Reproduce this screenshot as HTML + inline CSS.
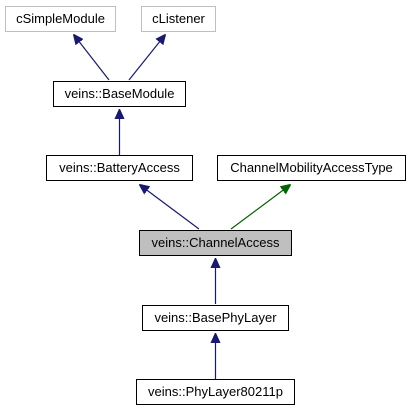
<!DOCTYPE html>
<html><head><style>body{margin:0;background:#fff}</style></head><body>
<svg width="411" height="411" xmlns="http://www.w3.org/2000/svg" font-family="Liberation Sans, sans-serif" font-size="13">
<defs>
<marker id="b" markerWidth="10" markerHeight="10" refX="9" refY="5" orient="auto" markerUnits="userSpaceOnUse"><path d="M0,0.5 L10,5 L0,9.5 z" fill="#191970" stroke="#191970"/></marker>
<marker id="g" markerWidth="10" markerHeight="10" refX="9" refY="5" orient="auto" markerUnits="userSpaceOnUse"><path d="M0,0.5 L10,5 L0,9.5 z" fill="#006400" stroke="#006400"/></marker>
</defs>
<g fill="#fff" stroke-width="1">
<rect x="5.5" y="6.5" width="110" height="25" stroke="#bfbfbf"/>
<rect x="141.5" y="6.5" width="74" height="25" stroke="#bfbfbf"/>
<rect x="53.5" y="81.5" width="132" height="25" stroke="#000"/>
<rect x="46.5" y="155.5" width="146" height="25" stroke="#000"/>
<rect x="217.5" y="155.5" width="188" height="25" stroke="#000"/>
<rect x="139.5" y="230.5" width="152" height="25" stroke="#000" fill="#bfbfbf"/>
<rect x="142.5" y="305.5" width="146" height="25" stroke="#000"/>
<rect x="136.5" y="379.5" width="158" height="25" stroke="#000"/>
</g>
<g stroke-width="1.2" fill="none">
<line x1="109" y1="80" x2="74" y2="35" stroke="#191970" marker-end="url(#b)"/>
<line x1="129" y1="80" x2="165" y2="35" stroke="#191970" marker-end="url(#b)"/>
<line x1="119.5" y1="155" x2="119.5" y2="110" stroke="#191970" marker-end="url(#b)"/>
<line x1="199" y1="229" x2="140" y2="185" stroke="#191970" marker-end="url(#b)"/>
<line x1="231" y1="229" x2="290" y2="185" stroke="#006400" marker-end="url(#g)"/>
<line x1="215.5" y1="304" x2="215.5" y2="259" stroke="#191970" marker-end="url(#b)"/>
<line x1="215.5" y1="379" x2="215.5" y2="334" stroke="#191970" marker-end="url(#b)"/>
</g>
<g fill="#000" text-anchor="middle">
<text x="60.5" y="23">cSimpleModule</text>
<text x="178.5" y="23">cListener</text>
<text x="119.5" y="98">veins::BaseModule</text>
<text x="119.5" y="172">veins::BatteryAccess</text>
<text x="311.5" y="172">ChannelMobilityAccessType</text>
<text x="215.5" y="247">veins::ChannelAccess</text>
<text x="215.5" y="322">veins::BasePhyLayer</text>
<text x="215.5" y="396">veins::PhyLayer80211p</text>
</g>
</svg>
</body></html>
